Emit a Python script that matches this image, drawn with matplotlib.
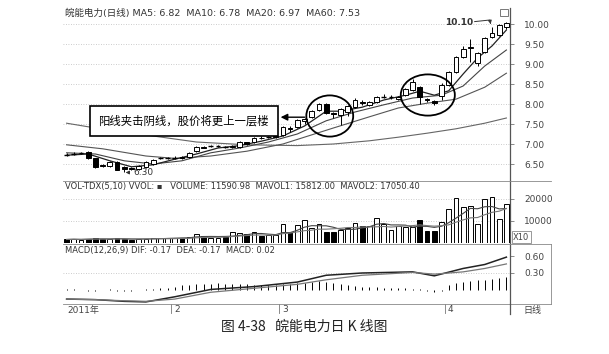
import matplotlib
matplotlib.use('Agg')
import matplotlib.pyplot as plt
from matplotlib.patches import Rectangle, Ellipse
from matplotlib.lines import Line2D
import matplotlib.transforms as mtrans
import pandas as pd

plt.rcParams['font.family'] = ['DejaVu Sans', 'Noto Sans CJK SC']

# ---------------- data ----------------
opens  = [6.74,6.75,6.77,6.80,6.64,6.48,6.45,6.56,6.43,6.40,
          6.38,6.42,6.50,6.64,6.65,6.65,6.67,6.67,6.82,6.93,
          6.94,6.95,6.93,6.92,6.93,7.04,7.05,7.16,7.17,7.18,
          7.22,7.40,7.42,7.58,7.68,7.85,8.00,7.78,7.72,7.80,
          7.92,8.05,7.98,8.04,8.18,8.17,8.12,8.22,8.35,8.42,
          8.13,8.08,8.20,8.48,8.80,9.18,9.40,9.02,9.30,9.68,
          9.72,9.92]
closes = [6.73,6.76,6.78,6.65,6.43,6.46,6.55,6.36,6.37,6.38,
          6.45,6.55,6.60,6.65,6.65,6.66,6.64,6.77,6.92,6.91,
          6.95,6.95,6.92,6.96,7.05,7.00,7.15,7.14,7.18,7.20,
          7.42,7.37,7.60,7.63,7.82,8.00,7.78,7.74,7.88,7.95,
          8.10,8.02,8.05,8.18,8.18,8.17,8.17,8.38,8.55,8.17,
          8.10,8.03,8.48,8.80,9.18,9.38,9.42,9.28,9.65,9.78,
          9.98,10.03]
highs  = [6.77,6.79,6.81,6.82,6.66,6.50,6.57,6.58,6.45,6.42,
          6.47,6.57,6.62,6.68,6.68,6.69,6.69,6.79,6.94,6.95,
          6.98,6.98,6.95,6.98,7.07,7.06,7.17,7.19,7.21,7.24,
          7.44,7.45,7.62,7.66,7.84,8.02,8.02,7.80,7.90,7.97,
          8.15,8.10,8.07,8.21,8.24,8.22,8.20,8.40,8.62,8.45,
          8.16,8.10,8.52,8.82,9.20,9.45,9.62,9.30,9.68,9.92,
          10.00,10.05]
lows   = [6.70,6.72,6.74,6.63,6.40,6.43,6.43,6.34,6.30,6.34,
          6.36,6.40,6.48,6.62,6.62,6.63,6.62,6.65,6.80,6.89,
          6.92,6.92,6.90,6.90,6.91,6.98,7.03,7.12,7.15,7.16,
          7.20,7.30,7.40,7.50,7.66,7.83,7.76,7.66,7.48,7.70,
          7.90,7.98,7.96,8.02,8.14,8.12,8.10,8.20,8.33,8.00,
          8.05,7.98,8.10,8.46,8.78,9.15,9.05,8.95,9.28,9.66,
          9.70,9.88]
volumes = [1600,1800,1500,2000,2200,1800,1700,2100,1900,1500,
           1700,2000,2200,2400,2100,2300,2500,2600,4300,3000,
           2500,2300,2800,5000,4600,4100,4900,3000,3500,3500,
           8800,4900,8200,10600,6900,8500,4900,4900,5700,6900,
           8900,7700,7700,11500,8500,5700,7700,7200,7200,10300,
           5400,5400,9700,15400,20500,16200,16900,8800,20000,21000,
           10800,17700]

ma5_idx  = [0,3,6,9,12,15,18,21,24,27,30,33,36,38,41,44,47,49,51,53,55,57,59,61]
ma5_val  = [6.72,6.75,6.58,6.43,6.48,6.62,6.75,6.90,6.96,7.07,7.20,7.45,7.82,7.82,
            7.92,8.10,8.22,8.32,8.22,8.33,8.75,9.15,9.45,9.85]
ma10_idx = [0,4,8,12,16,20,24,28,32,36,40,44,48,52,55,58,61]
ma10_val = [6.78,6.75,6.58,6.50,6.58,6.78,6.90,7.05,7.25,7.58,7.80,7.98,8.15,8.22,
            8.45,8.95,9.35]
ma20_idx = [0,5,11,15,20,25,30,37,42,46,50,54,58,61]
ma20_val = [6.98,6.88,6.70,6.64,6.70,6.82,7.00,7.40,7.68,7.90,8.02,8.12,8.42,8.77]
ma60_idx = [0,3,12,18,25,32,37,42,46,50,54,58,61]
ma60_val = [7.52,7.43,7.20,7.05,6.98,6.96,7.00,7.08,7.17,7.27,7.38,7.52,7.65]

macd_hist = [0.01,0.01,0.0,-0.01,-0.01,0.0,0.01,-0.01,-0.02,-0.01,0.0,0.01,0.02,
             0.03,0.04,0.06,0.08,0.09,0.10,0.11,0.11,0.12,0.11,
             0.11,0.10,0.10,0.09,0.09,0.08,0.09,0.10,0.11,0.12,0.13,0.15,
             0.16,0.15,0.12,0.10,0.08,0.07,0.06,0.05,0.05,0.04,0.04,0.03,0.03,
             0.02,0.01,-0.02,-0.04,-0.02,
             0.08,0.13,0.15,0.16,0.17,0.18,0.20,0.22,0.23]
dif_idx = [0,4,8,11,15,20,26,32,36,41,48,51,55,58,61]
dif_val = [-0.16,-0.17,-0.20,-0.21,-0.12,0.01,0.06,0.14,0.26,0.30,0.32,0.25,0.38,0.45,0.58]
dea_val = [-0.16,-0.17,-0.19,-0.20,-0.16,-0.04,0.03,0.10,0.18,0.26,0.31,0.28,0.32,0.38,0.46]

price_ticks = [6.50,7.00,7.50,8.00,8.50,9.00,9.50,10.00]
vol_ticks = [10000,20000]
macd_ticks = [0.30,0.60]
month_idx = [15,30,53]
month_labels = ['2','3','4']

# ---------------- layout ----------------
W, H = 609, 354
fig = plt.figure(figsize=(W/100, H/100), dpi=100)
fig.patch.set_facecolor('white')

def pbox(l, t, r, b):
    return [l/W, 1-b/H, (r-l)/W, (b-t)/H]

n = len(closes)
axp = fig.add_axes(pbox(63, 8, 510, 180))
axv = fig.add_axes(pbox(63, 181, 510, 243))
axm = fig.add_axes(pbox(63, 244, 510, 304))

TC = '#444444'
for ax in (axp, axv, axm):
    ax.set_xlim(-0.5, n-0.5)
    for s in ('left','top','bottom'):
        ax.spines[s].set_visible(False)
    ax.spines['right'].set_color('#555555')
    ax.spines['right'].set_linewidth(0.9)
    ax.set_xticks([])
    ax.yaxis.tick_right()
    ax.tick_params(axis='y', length=3, width=0.6, color='#777777', pad=7,
                   labelsize=6.5, labelcolor=TC)
    ax.set_facecolor('none')

# price panel
axp.set_ylim(6.1, 10.4)
axp.set_yticks(price_ticks)
axp.set_yticklabels(['%.2f' % t for t in price_ticks])
for t in price_ticks:
    axp.axhline(t, color='#bbbbbb', lw=0.6, ls=(0, (1, 2)), zorder=0)

axp.plot(ma60_idx, ma60_val, color='#666666', lw=0.8, zorder=2)
axp.plot(ma20_idx, ma20_val, color='#555555', lw=0.8, zorder=2)
axp.plot(ma10_idx, ma10_val, color='#444444', lw=0.8, zorder=2)
axp.plot(ma5_idx, ma5_val, color='#222222', lw=0.9, zorder=2)

for i, (o, h, l, c) in enumerate(zip(opens, highs, lows, closes)):
    up = c >= o
    axp.vlines(i, l, h, color='black', lw=0.7, zorder=3)
    if abs(c - o) < 0.015:
        axp.hlines(c, i-0.33, i+0.33, color='black', lw=1.0, zorder=4)
    else:
        axp.add_patch(Rectangle((i-0.33, min(o, c)), 0.66, abs(c-o),
                                facecolor='white' if up else 'black',
                                edgecolor='black', lw=0.7, zorder=4))

# annotation box and arrow
axp.add_patch(Rectangle((3.2, 7.2), 26.1, 0.75, facecolor='white',
                        edgecolor='black', lw=1.2, zorder=6))
axp.text(16.25, 7.575, '阳线夹击阴线，股价将更上一层楼', ha='center', va='center',
         fontsize=8.2, family=['Noto Sans CJK SC'], zorder=7)
axp.annotate('', xy=(29.3, 7.67), xytext=(33.4, 7.67),
             arrowprops=dict(arrowstyle='-|>', color='black', lw=1.0,
                             mutation_scale=10), zorder=7)
axp.add_patch(Ellipse((36.5, 7.70), 6.5, 1.03, fill=False, ec='black', lw=1.3, zorder=5))
axp.add_patch(Ellipse((50.1, 8.225), 7.5, 1.03, fill=False, ec='black', lw=1.3, zorder=5))

axp.text(56.4, 10.03, '10.10', ha='right', va='center', fontsize=6.5,
         weight='bold', color='#333333')
axp.plot([56.6, 58.7], [10.06, 10.10], color='#333333', lw=0.7)
axp.annotate('', xy=(58.9, 9.93), xytext=(58.7, 10.10),
             arrowprops=dict(arrowstyle='-|>', color='#333333', lw=0.7,
                             mutation_scale=5))
axp.annotate('6.30', xy=(7.8, 6.29), xytext=(9.3, 6.28), ha='left', va='center',
             fontsize=6.5, color='#333333',
             arrowprops=dict(arrowstyle='-|>', color='#333333', lw=0.7,
                             mutation_scale=5))
axp.add_patch(Rectangle((0.978, 0.955), 0.018, 0.04, transform=axp.transAxes,
                        fill=False, ec='#777777', lw=0.7, clip_on=False))

fig.text(65/W, 1-13/H, '皖能电力(日线) MA5: 6.82  MA10: 6.78  MA20: 6.97  MA60: 7.53',
         fontsize=6.8, color='#333333', va='center')

# volume panel
axv.set_ylim(0, (243-181)/22*10000)
axv.set_yticks(vol_ticks)
axv.set_yticklabels([str(t) for t in vol_ticks])
for t in vol_ticks:
    axv.axhline(t, color='#bbbbbb', lw=0.6, ls=(0, (1, 2)), zorder=0)
vcolors = ['white' if c >= o else 'black' for o, c in zip(opens, closes)]
axv.bar(range(n), volumes, width=0.66, color=vcolors, edgecolor='black', lw=0.7, zorder=3)
vs = pd.Series(volumes)
axv.plot(range(n), vs.rolling(5, min_periods=1).mean(), color='#444444', lw=0.8, zorder=4)
axv.plot(range(n), vs.rolling(10, min_periods=1).mean(), color='#777777', lw=0.8, zorder=4)
fig.text(65/W, 1-187/H,
         'VOL-TDX(5,10) VVOL: \u25aa   VOLUME: 11590.98  MAVOL1: 15812.00  MAVOL2: 17050.40',
         fontsize=6, color='#333333', va='center')
fig.text(513/W, 1-237/H, 'X10', fontsize=6, color=TC, va='center',
         bbox=dict(boxstyle='square,pad=0.15', fc='white', ec='#888888', lw=0.6))

# MACD panel
axm.set_ylim(-14/17*0.3, 46/17*0.3)
axm.set_yticks(macd_ticks)
axm.set_yticklabels(['%.2f' % t for t in macd_ticks])
axm.axhline(0.30, color='#bbbbbb', lw=0.6, ls=(0, (1, 2)), zorder=0)
axm.vlines(range(n), 0, macd_hist, color='black', lw=0.7, zorder=3)
axm.plot(dif_idx, dif_val, color='#222222', lw=1.1, zorder=4)
axm.plot(dif_idx, dea_val, color='#777777', lw=0.9, zorder=4)
fig.text(65/W, 1-250/H, 'MACD(12,26,9) DIF: -0.17  DEA: -0.17  MACD: 0.02',
         fontsize=6, color='#333333', va='center')

# x labels
bt = mtrans.blended_transform_factory(axm.transData, axm.transAxes)
axm.text(0.1, -0.1, '2011年', transform=bt, fontsize=6.5, color=TC, va='center', ha='left')
for i, lab in zip(month_idx, month_labels):
    axm.plot([i-0.5, i-0.5], [0, -0.15], transform=bt, color='#777777', lw=0.6, clip_on=False)
    axm.text(i-0.1, -0.1, lab, transform=bt, fontsize=6.5, color=TC, va='center', ha='left')
fig.text(523/W, 1-310/H, '日线', fontsize=6.5, color=TC, va='center')

# separators
for y in (181, 244, 304):
    fig.add_artist(Line2D([63/W, 551/W], [1-y/H, 1-y/H], color='#888888', lw=0.6))
fig.add_artist(Line2D([551/W, 551/W], [1-244/H, 1-304/H], color='#888888', lw=0.6))
fig.add_artist(Line2D([510/W, 510/W], [1-304/H, 1-314/H], color='#555555', lw=0.9))

fig.text(304/W, 1-327/H, '图 4-38   皖能电力日 K 线图', ha='center', va='center',
         fontsize=10, family=['Noto Sans CJK SC'], color='#222222')

fig.savefig('out.png', dpi=100, facecolor='white')
